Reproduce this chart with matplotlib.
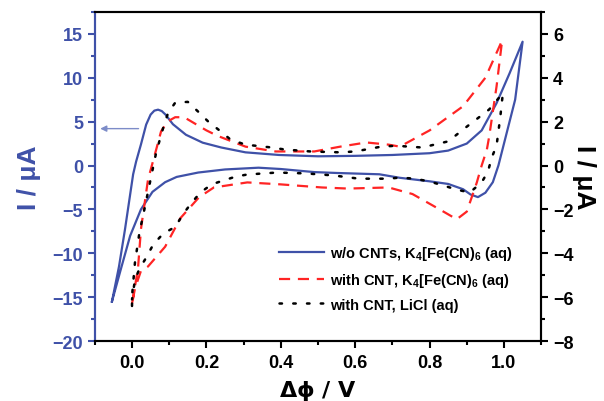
"""Cyclic voltammograms with and without CNTs (two current axes).

The blue curve (no CNTs) is read against the left axis, the red and black
curves (with CNT) against the right axis. Saves out.png.
"""

import matplotlib.pyplot as plt
from matplotlib.ticker import MultipleLocator

# --- Data (current in uA) ------------------------------------------------
# w/o CNTs, K4[Fe(CN)6] (left axis), one closed loop
blue_x = [-0.054, -0.035, -0.019, 0.003, 0.011, 0.024, 0.038, 0.05, 0.06,
          0.07, 0.08, 0.09, 0.11, 0.145, 0.19, 0.24, 0.305, 0.395, 0.5, 0.6,
          0.7, 0.8, 0.85, 0.9, 0.94, 0.98, 1.015, 1.05,
          1.03, 1.003, 0.985, 0.97, 0.95, 0.93, 0.91, 0.89, 0.85, 0.8, 0.72,
          0.665, 0.55, 0.49, 0.4, 0.34, 0.25, 0.178, 0.12, 0.089, 0.055,
          0.024, -0.005, -0.03, -0.054]
blue_y = [-15.5, -11.5, -7.3, -1.0, 0.45, 2.4, 4.66, 5.8, 6.25,
          6.36, 6.2, 5.8, 4.7, 3.5, 2.6, 2.05, 1.5, 1.2, 1.05, 1.1,
          1.2, 1.4, 1.7, 2.5, 4.0, 7.1, 10.5, 14.1,
          7.5, 3.0, 0.0, -1.9, -3.1, -3.6, -3.3, -2.7, -2.1, -1.8, -1.4,
          -1.0, -0.85, -0.75, -0.4, -0.25, -0.45, -0.8, -1.3, -1.9, -3.0,
          -5.0, -8.0, -11.8, -15.5]

# with CNT, K4[Fe(CN)6] (right axis)
red_x = [0.0, 0.005, 0.016, 0.024, 0.043, 0.065, 0.078, 0.095, 0.116, 0.14,
         0.17, 0.2, 0.23, 0.305, 0.386, 0.49, 0.56, 0.63, 0.69, 0.72, 0.8,
         0.89, 0.95, 0.995,
         0.98, 0.96, 0.954, 0.94, 0.927, 0.9, 0.873, 0.827, 0.754, 0.69,
         0.58, 0.51, 0.4, 0.31, 0.22, 0.18, 0.13, 0.089, 0.043, 0.024,
         0.008, 0.0]
red_y = [-6.3, -5.8, -4.7, -2.9, -0.64, 0.73, 1.55, 2.0, 2.2, 2.2,
         1.9, 1.6, 1.35, 0.86, 0.64, 0.64, 0.86, 1.05, 0.95, 0.86, 1.6,
         2.7, 4.0, 5.7,
         3.6, 1.3, 0.73, 0.0, -0.77, -2.1, -2.45, -2.0, -1.3, -1.0,
         -1.05, -1.0, -0.86, -0.77, -1.0, -1.45, -2.4, -3.7, -4.6, -4.8,
         -5.6, -6.3]

# with CNT, LiCl (right axis)
black_x = [0.0, 0.0, 0.008, 0.02, 0.035, 0.043, 0.057, 0.065, 0.084, 0.097,
           0.116, 0.15, 0.178, 0.205, 0.232, 0.265, 0.305, 0.376, 0.41, 0.48,
           0.56, 0.6, 0.67, 0.71, 0.78, 0.85, 0.9, 0.96, 0.997,
           0.99, 0.98, 0.967, 0.957, 0.94, 0.908, 0.873, 0.835, 0.8, 0.76,
           0.72, 0.69, 0.61, 0.54, 0.467, 0.39, 0.31, 0.28, 0.246, 0.214,
           0.184, 0.16, 0.138, 0.116, 0.084, 0.057, 0.038, 0.02, 0.008, 0.0]
black_y = [-6.4, -5.95, -4.4, -3.05, -1.86, -1.2, -0.05, 0.6, 1.73, 2.4,
           2.86, 2.9, 2.45, 2.0, 1.64, 1.18, 0.95, 0.82, 0.73, 0.64,
           0.6, 0.64, 0.86, 0.9, 0.82, 1.1, 1.77, 2.55, 3.3,
           2.2, 0.9, 0.36, -0.27, -0.77, -1.23, -1.1, -0.9, -0.73, -0.6,
           -0.55, -0.6, -0.6, -0.45, -0.36, -0.32, -0.41, -0.5, -0.68, -0.86,
           -1.23, -1.7, -2.2, -2.8, -3.1, -3.6, -4.2, -4.7, -5.2, -6.1]

labels = [r"w/o CNTs, K$_{4}$[Fe(CN)$_{6}$ (aq)",
          r"with CNT, K$_{4}$[Fe(CN)$_{6}$ (aq)",
          "with CNT, LiCl (aq)"]
# ------------------------------------------------------------------------

BLUE = "#3f51a8"
RED = "#ff2424"
ARROW = "#7d8cc8"

plt.rcParams["font.family"] = ["Liberation Sans", "DejaVu Sans"]
plt.rcParams["font.weight"] = "bold"
plt.rcParams["mathtext.fontset"] = "custom"
plt.rcParams["mathtext.rm"] = "Liberation Sans:bold"
plt.rcParams["mathtext.bf"] = "Liberation Sans:bold"
plt.rcParams["mathtext.default"] = "bf"


def main():
    fig, ax = plt.subplots(figsize=(6.04, 4.02), dpi=100)
    fig.subplots_adjust(left=0.157, right=0.896, bottom=0.149, top=0.968)
    ax2 = ax.twinx()

    l1, = ax.plot(blue_x, blue_y, color=BLUE, lw=1.6)
    l2, = ax2.plot(red_x, red_y, color=RED, lw=1.6, dashes=(5, 3.5))
    l3, = ax2.plot(black_x, black_y, color="black", lw=1.8, dashes=(1, 4.5),
                   dash_capstyle="round")

    ax.set_xlim(-0.1, 1.1)
    ax.set_ylim(-20, 17.5)
    ax2.set_ylim(-8, 7)

    ax.xaxis.set_major_locator(MultipleLocator(0.2))
    ax.xaxis.set_minor_locator(MultipleLocator(0.1))
    ax.yaxis.set_major_locator(MultipleLocator(5))
    ax.yaxis.set_minor_locator(MultipleLocator(2.5))
    ax2.yaxis.set_major_locator(MultipleLocator(2))
    ax2.yaxis.set_minor_locator(MultipleLocator(1))

    for side in ["top", "bottom", "left", "right"]:
        ax2.spines[side].set_linewidth(1.5)
        ax.spines[side].set_linewidth(1.5)
    ax.spines["left"].set_color(BLUE)
    ax2.spines["left"].set_color(BLUE)

    ax.tick_params(axis="x", which="major", length=5, width=1.5, labelsize=13, pad=4)
    ax.tick_params(axis="x", which="minor", length=3, width=1.5)
    ax.tick_params(axis="y", which="major", length=5, width=1.5, color=BLUE,
                   labelcolor=BLUE, labelsize=13)
    ax.tick_params(axis="y", which="minor", length=3, width=1.5, color=BLUE)
    ax2.tick_params(axis="y", which="major", length=5, width=1.5, labelsize=13)
    ax2.tick_params(axis="y", which="minor", length=3, width=1.5)
    ax.xaxis.set_major_formatter(lambda v, pos: f"{v:.1f}")

    # Greek part drawn with DejaVu so the phi is the stroked form
    ax.set_xlabel(r"$\mathrm{\Delta\phi}\ \mathbf{/\ V}$", fontsize=16,
                  labelpad=5, math_fontfamily="dejavusans")
    ax.set_ylabel("I / μA", fontsize=19, fontweight="bold", color=BLUE,
                  labelpad=8)
    ax2.set_ylabel("I / μA", fontsize=19, fontweight="bold", rotation=270,
                   labelpad=16)

    fig.canvas.draw()
    for lab in ax.get_xticklabels() + ax.get_yticklabels() + ax2.get_yticklabels():
        lab.set_fontweight("bold")

    # arrow pointing the blue curve to its (left) axis
    ax.annotate("", xy=(-0.093, 4.2), xytext=(0.025, 4.2),
                arrowprops=dict(arrowstyle="-|>", color=ARROW, lw=1.0,
                                mutation_scale=9))

    ax2.legend([l1, l2, l3], labels, loc="lower right", frameon=False,
               prop={"size": 10.5, "weight": "bold"}, handlelength=3.1,
               handletextpad=0.4, labelspacing=0.6,
               bbox_to_anchor=(0.965, 0.05))

    fig.savefig("out.png", dpi=100)


if __name__ == "__main__":
    main()
